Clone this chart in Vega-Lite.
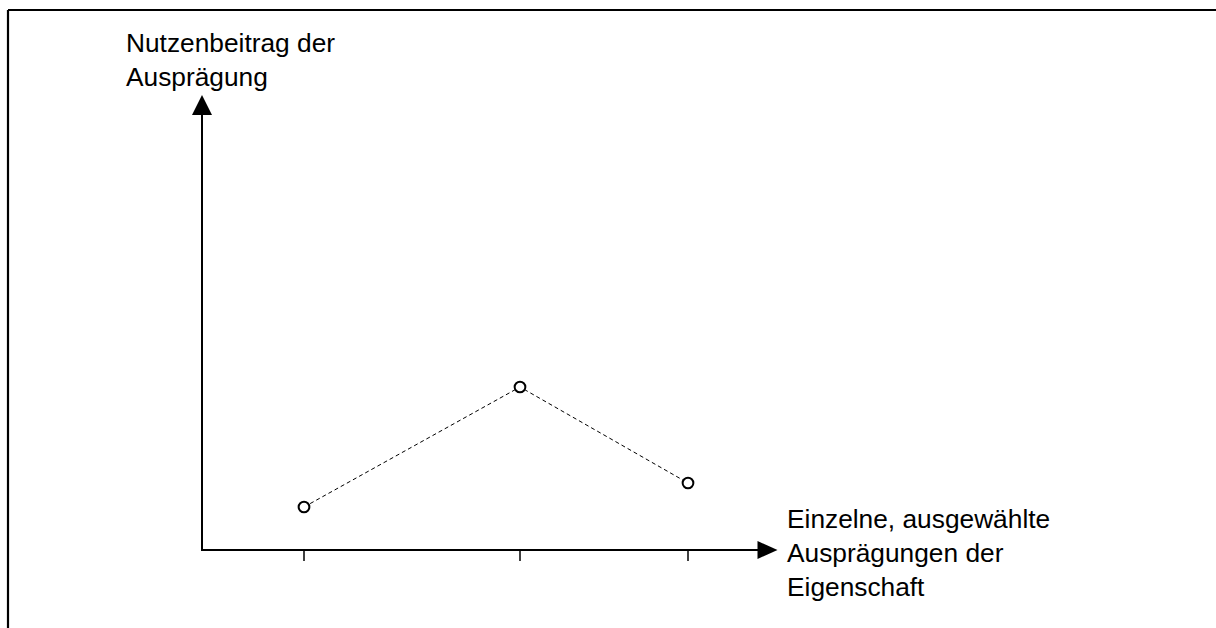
{
  "$schema": "https://vega.github.io/schema/vega-lite/v6.json",
  "width": 1216,
  "height": 628,
  "autosize": "none",
  "padding": 0,
  "background": "white",
  "config": {"view": {"stroke": null}},
  "encoding": {
    "x": {"field": "x", "type": "quantitative", "scale": {"domain": [-202, 1014], "nice": false, "zero": false}, "axis": null},
    "y": {"field": "y", "type": "quantitative", "scale": {"domain": [-78, 550], "nice": false, "zero": false}, "axis": null}
  },
  "layer": [
    {
      "data": {"values": [
        {"x": -194, "y": 540, "x2": 1014, "y2": 540},
        {"x": -194, "y": 540, "x2": -194, "y2": -78}
      ]},
      "mark": {"type": "rule", "color": "black", "strokeWidth": 2.2},
      "encoding": {"x2": {"field": "x2"}, "y2": {"field": "y2"}}
    },
    {
      "data": {"values": [
        {"o": 1, "x": 0, "y": 440},
        {"o": 2, "x": 0, "y": 0},
        {"o": 3, "x": 560, "y": 0}
      ]},
      "mark": {"type": "line", "color": "black", "strokeWidth": 2, "strokeJoin": "miter"},
      "encoding": {"order": {"field": "o", "type": "quantitative"}}
    },
    {
      "data": {"values": [
        {"dir": "up", "x": 0, "y": 445},
        {"dir": "right", "x": 565.5, "y": 0}
      ]},
      "mark": {"type": "point", "filled": true, "color": "black", "opacity": 1, "size": 400, "strokeWidth": 0},
      "encoding": {
        "shape": {"field": "dir", "type": "nominal", "scale": {"domain": ["up", "right"], "range": ["M-1,1L1,1L0,-1Z", "M-1,-0.9L1,0L-1,0.9Z"]}, "legend": null}
      }
    },
    {
      "data": {"values": [
        {"x": 102, "y": 0, "y2": -11},
        {"x": 318, "y": 0, "y2": -11},
        {"x": 486, "y": 0, "y2": -11}
      ]},
      "mark": {"type": "rule", "color": "black", "strokeWidth": 1.5},
      "encoding": {"y2": {"field": "y2"}}
    },
    {
      "data": {"values": [
        {"auspraegung": 1, "x": 102, "y": 43},
        {"auspraegung": 2, "x": 318, "y": 163},
        {"auspraegung": 3, "x": 486, "y": 67}
      ]},
      "layer": [
        {
          "mark": {"type": "line", "color": "black", "strokeWidth": 1, "strokeDash": [4, 3]},
          "encoding": {"order": {"field": "auspraegung", "type": "quantitative"}}
        },
        {
          "mark": {"type": "point", "shape": "circle", "filled": false, "fill": "white", "fillOpacity": 1, "stroke": "black", "strokeWidth": 2, "opacity": 1, "size": 115}
        }
      ]
    },
    {
      "data": {"values": [
        {"x": -76, "y": 498, "label": "Nutzenbeitrag der\nAusprägung"},
        {"x": 585, "y": 22, "label": "Einzelne, ausgewählte\nAusprägungen der\nEigenschaft"}
      ]},
      "mark": {"type": "text", "align": "left", "baseline": "alphabetic", "font": "Liberation Sans", "fontSize": 26.3, "lineHeight": 34, "lineBreak": "\n", "color": "black"},
      "encoding": {"text": {"field": "label"}}
    }
  ]
}
